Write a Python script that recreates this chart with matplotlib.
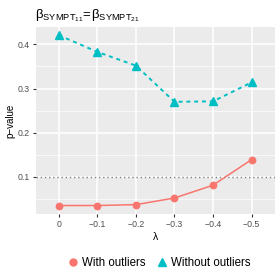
import matplotlib
matplotlib.use("Agg")
import matplotlib.pyplot as plt
from matplotlib.lines import Line2D

# lambda values (x axis, shown reversed) and their tick labels
lambdas = [0, -0.1, -0.2, -0.3, -0.4, -0.5]
lambda_labels = ["0", "\u22120.1", "\u22120.2", "\u22120.3", "\u22120.4", "\u22120.5"]

# p-values
p_with = [0.035, 0.035, 0.037, 0.052, 0.081, 0.139]
p_without = [0.421, 0.383, 0.352, 0.270, 0.271, 0.314]

threshold = 0.1
y_ticks = [0.1, 0.2, 0.3, 0.4]
y_minor = [0.05, 0.15, 0.25, 0.35]

RED = "#F8766D"
CYAN = "#00BFC4"


def main():
    plt.rcParams["font.family"] = ["Liberation Sans", "DejaVu Sans"]
    plt.rcParams["mathtext.fontset"] = "custom"
    plt.rcParams["mathtext.rm"] = "Liberation Sans"
    plt.rcParams["mathtext.it"] = "Liberation Sans:italic"

    fig = plt.figure(figsize=(2.8, 2.8), dpi=100)
    ax = fig.add_axes([0.1275, 0.234, 0.8535, 0.671])
    ax.set_facecolor("#EBEBEB")
    for s in ax.spines.values():
        s.set_visible(False)

    # grid
    for y in y_minor:
        ax.axhline(y, color="white", lw=0.5, zorder=0)
    for y in y_ticks:
        ax.axhline(y, color="white", lw=1.1, zorder=0)
    for x in lambdas:
        ax.axvline(x, color="white", lw=1.1, zorder=0)

    ax.axhline(threshold, color="#7F7F7F", lw=1.0, ls=(0, (1, 2)), zorder=1)

    ax.plot(lambdas, p_with, color=RED, lw=1.1, marker="o", ms=4.6, zorder=3)
    ax.plot(lambdas, p_without, color=CYAN, lw=1.4, ls=(0, (2, 2)),
            marker="^", ms=5.5, zorder=3)

    ax.set_xlim(0.06, -0.56)
    ax.set_ylim(0.0147, 0.4404)
    ax.set_xticks(lambdas)
    ax.set_xticklabels(lambda_labels)
    ax.set_yticks(y_ticks)
    ax.set_yticklabels(["0.1", "0.2", "0.3", "0.4"])
    ax.tick_params(length=2.5, width=0.8, color="#333333", labelcolor="#4D4D4D",
                   labelsize=6.3, pad=1.5)

    ax.set_xlabel("\u03bb", fontsize=7.5, labelpad=2)
    ax.set_ylabel("p\u2212value", fontsize=7, labelpad=2)

    title = "$\\mathrm{\u03b2}_{\\mathrm{SYMPT}_{11}}\\!=\\!\\mathrm{\u03b2}_{\\mathrm{SYMPT}_{21}}$"
    fig.text(0.125, 0.945, title, fontsize=9.5, ha="left", va="center")

    handles = [
        Line2D([], [], color=RED, marker="o", ls="none", ms=5),
        Line2D([], [], color=CYAN, marker="^", ls="none", ms=5.5),
    ]
    fig.legend(handles, ["With outliers", "Without outliers"], loc="center",
               bbox_to_anchor=(0.565, 0.061), ncol=2, frameon=False,
               fontsize=8.3, handletextpad=0.2, columnspacing=0.8,
               handlelength=1.2)

    fig.savefig("out.png", dpi=100)


if __name__ == "__main__":
    main()
